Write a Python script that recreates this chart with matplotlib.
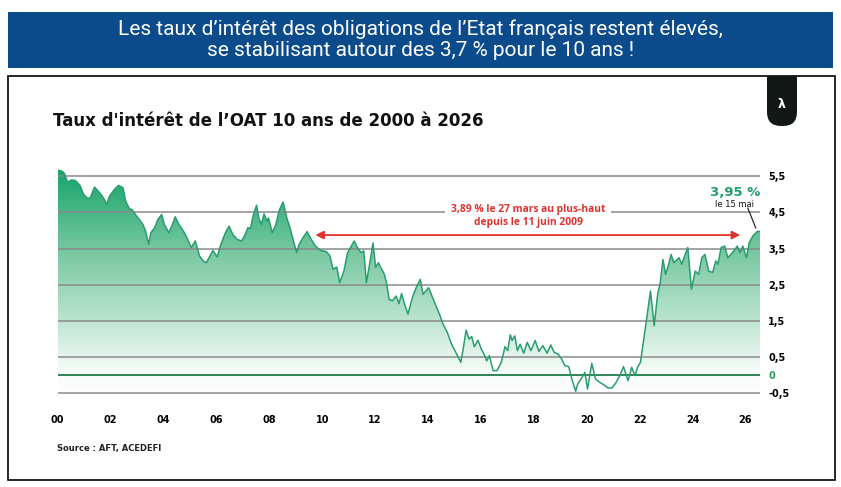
import matplotlib
matplotlib.use("Agg")
import matplotlib.pyplot as plt
import numpy as np
from matplotlib.colors import LinearSegmentedColormap
from matplotlib.patches import Polygon, Rectangle, FancyBboxPatch

# years since 2000 (fraction of year) and OAT 10y rate (%)
YEARS = [
    0.00, 0.16, 0.26, 0.37, 0.53, 0.67, 0.84, 0.98, 1.14, 1.24, 1.39, 1.59, 1.75, 1.85, 1.96,
    2.14, 2.30, 2.47, 2.57, 2.71, 2.81, 2.95, 3.08, 3.22, 3.32, 3.44, 3.52, 3.67, 3.79, 3.93,
    4.03, 4.20, 4.34, 4.44, 4.58, 4.75, 4.91, 5.05, 5.20, 5.36, 5.50, 5.62, 5.77, 5.87, 6.03,
    6.17, 6.34, 6.48, 6.62, 6.78, 6.95, 7.09, 7.19, 7.29, 7.40, 7.52, 7.60, 7.70, 7.80, 7.91,
    7.97, 8.11, 8.25, 8.37, 8.52, 8.66, 8.78, 8.88, 9.03, 9.13, 9.27, 9.43, 9.58, 9.74, 9.94,
    10.15, 10.29, 10.41, 10.55, 10.66, 10.82, 10.96, 11.10, 11.21, 11.33, 11.47, 11.57, 11.67,
    11.78, 11.92, 12.02, 12.12, 12.25, 12.35, 12.43, 12.53, 12.65, 12.80, 12.90, 13.00, 13.10,
    13.24, 13.41, 13.55, 13.71, 13.81, 14.02, 14.22, 14.43, 14.57, 14.73, 14.89, 15.08, 15.24,
    15.34, 15.44, 15.55, 15.65, 15.75, 15.89, 16.01, 16.12, 16.22, 16.32, 16.46, 16.61, 16.77,
    16.91, 17.01, 17.11, 17.18, 17.28, 17.38, 17.48, 17.62, 17.75, 17.89, 18.05, 18.19, 18.34,
    18.50, 18.64, 18.77, 18.91, 19.05, 19.17, 19.32, 19.42, 19.58, 19.66, 19.82, 19.93, 20.03,
    20.19, 20.33, 20.48, 20.64, 20.80, 20.95, 21.09, 21.25, 21.39, 21.56, 21.70, 21.82, 21.92,
    22.03, 22.13, 22.27, 22.41, 22.55, 22.68, 22.78, 22.88, 22.98, 23.08, 23.19, 23.29, 23.49,
    23.59, 23.82, 23.96, 24.10, 24.23, 24.35, 24.47, 24.61, 24.76, 24.88, 24.96, 25.08, 25.22,
    25.33, 25.45, 25.57, 25.69, 25.80, 25.90, 26.04, 26.14, 26.28, 26.44, 26.55,
]
RATES = [
    5.67, 5.64, 5.57, 5.34, 5.40, 5.38, 5.25, 5.00, 4.88, 4.92, 5.20, 5.04, 4.88, 4.72, 4.95,
    5.13, 5.25, 5.18, 4.81, 4.60, 4.58, 4.43, 4.31, 4.17, 3.99, 3.62, 3.94, 4.08, 4.31, 4.44,
    4.17, 3.94, 4.17, 4.38, 4.17, 3.99, 3.76, 3.53, 3.71, 3.30, 3.16, 3.11, 3.32, 3.45, 3.27,
    3.62, 3.94, 4.12, 3.89, 3.76, 3.71, 3.89, 4.08, 4.06, 4.44, 4.70, 4.35, 4.17, 4.46, 4.26,
    4.35, 3.94, 4.17, 4.55, 4.79, 4.35, 4.08, 3.80, 3.39, 3.62, 3.80, 3.97, 3.76, 3.57, 3.45,
    3.42, 3.30, 2.93, 2.99, 2.56, 2.88, 3.39, 3.57, 3.71, 3.53, 3.39, 3.44, 2.56,
    3.02, 3.66, 2.98, 3.11, 2.93, 2.79, 2.56, 2.10, 2.06, 2.19, 1.98, 2.26, 2.00,
    1.69, 2.15, 2.42, 2.65, 2.24, 2.42, 2.06, 1.69, 1.41, 1.18, 0.86, 0.59, 0.36,
    0.77, 1.25, 1.00, 1.07, 0.79, 0.97, 0.73, 0.58, 0.40, 0.54, 0.13, 0.13, 0.36,
    0.79, 0.68, 1.12, 0.96, 1.09, 0.68, 0.86, 0.61, 0.91, 0.68, 0.96, 0.66, 0.82,
    0.61, 0.84, 0.63, 0.59, 0.45, 0.27, 0.24, -0.06, -0.44, -0.24, -0.06, 0.08, -0.38,
    0.33, -0.10, -0.19, -0.26, -0.35, -0.35, -0.22, -0.01, 0.24, -0.15, 0.22, -0.01, 0.22,
    0.36, 0.86, 1.60, 2.33, 1.37, 2.24, 2.56, 3.20, 2.79, 3.02, 3.34, 3.11, 3.25,
    3.07, 3.53, 2.38, 2.88, 2.79, 3.25, 3.34, 2.88, 2.84, 3.16, 3.07, 3.53, 3.57,
    3.25, 3.34, 3.44, 3.57, 3.39, 3.57, 3.25, 3.66, 3.85, 3.97, 3.98,
]

GRID_VALUES = [5.5, 4.5, 3.5, 2.5, 1.5, 0.5, -0.5]
Y_TICKS = [5.5, 4.5, 3.5, 2.5, 1.5, 0.5, 0, -0.5]
Y_LABELS = ["5,5", "4,5", "3,5", "2,5", "1,5", "0,5", "0", "-0,5"]
X_TICKS = list(range(0, 27, 2))
X_LABELS = ["%02d" % t for t in X_TICKS]

BLUE = "#0b4a8b"
GREEN = "#2a9d6e"
DARK_GREEN = "#1f7a4c"
RED = "#e0322d"
GREY = "#8a8a8a"

W, H = 841, 487
fig = plt.figure(figsize=(W / 100, H / 100), dpi=100)
fig.patch.set_facecolor("white")

# header banner
fig.patches.append(Rectangle((8 / W, 1 - 68 / H), 825 / W, 56 / H,
                             transform=fig.transFigure, facecolor=BLUE, edgecolor="none"))
fig.text(0.5, 1 - 29 / H, "Les taux d\u2019intérêt des obligations de l\u2019Etat français restent élevés,",
         ha="center", va="center", color="white", fontsize=15, family="Roboto")
fig.text(0.5, 1 - 51 / H, "se stabilisant autour des 3,7 % pour le 10 ans !",
         ha="center", va="center", color="white", fontsize=15, family="Roboto")

# chart frame
fig.patches.append(Rectangle((8 / W, 1 - 480 / H), 827 / W, 404 / H,
                             transform=fig.transFigure, facecolor="none", edgecolor="black", lw=1.2))

# logo tab (inches), square top on the frame and rounded bottom
fig.patches.append(FancyBboxPatch((7.67, (H - 126) / 100), 0.30, 0.40,
                                  boxstyle="round,pad=0,rounding_size=0.14",
                                  transform=fig.dpi_scale_trans, facecolor="#111815", edgecolor="none"))
fig.patches.append(Rectangle((7.67, (H - 100) / 100), 0.30, 0.24,
                             transform=fig.dpi_scale_trans, facecolor="#111815", edgecolor="none"))
fig.text(782 / W, 1 - 104 / H, "\u03bb", ha="center", va="center", color="white",
         fontsize=9, fontweight="bold")

fig.text(53 / W, 1 - 121 / H, "Taux d'intérêt de l\u2019OAT 10 ans de 2000 à 2026",
         ha="left", va="center", fontsize=12, fontweight="bold", color="#111111")
fig.text(57 / W, 1 - 449 / H, "Source : AFT, ACEDEFI", ha="left", va="center",
         fontsize=6, fontweight="bold", color="#222222")

ax = fig.add_axes([57.7 / W, 1 - 395.2 / H, (760 - 57.7) / W, (395.2 - 167.2) / H])
ymin, ymax = -0.55, 5.75
xmax = YEARS[-1]
ax.set_xlim(0, xmax)
ax.set_ylim(ymin, ymax)

# gradient fill under the curve
cmap = LinearSegmentedColormap.from_list(
    "g", [(0, "#ffffff"), (0.12, "#f2faf6"), (0.35, "#b6e2cd"), (0.65, "#72c59d"), (1, "#12a36a")])
grad = np.linspace(0, 1, 256).reshape(-1, 1)
img = ax.imshow(grad, extent=[0, xmax, ymin, ymax], origin="lower", aspect="auto",
                cmap=cmap, zorder=1)
verts = list(zip(YEARS, RATES)) + [(YEARS[-1], ymin), (YEARS[0], ymin)]
poly = Polygon(verts, closed=True, facecolor="none", edgecolor="none")
ax.add_patch(poly)
img.set_clip_path(poly)

for v in GRID_VALUES:
    ax.axhline(v, color=GREY, lw=1.1, zorder=2)
ax.axhline(0, color=DARK_GREEN, lw=1.3, zorder=2)

ax.plot(YEARS, RATES, color=GREEN, lw=1.1, zorder=3)

# red arrow annotation
ax.annotate("", xy=(9.74, 3.875), xytext=(25.8, 3.875),
            arrowprops=dict(arrowstyle="<|-|>", color=RED, lw=1.3, mutation_scale=12,
                            shrinkA=0, shrinkB=0), zorder=4)
ax.text(17.78, 4.4, "3,89 % le 27 mars au plus-haut\ndepuis le 11 juin 2009",
        ha="center", va="center", color=RED, fontsize=7.4, fontweight="bold",
        family="Open Sans", linespacing=1.15, zorder=5,
        bbox=dict(boxstyle="square,pad=0.6", facecolor="white", edgecolor="none"))

# last value annotation
ax.text(25.6, 5.06, "3,95 %", ha="center", va="center", color="#1f9e6a",
        fontsize=9.5, fontweight="bold", zorder=5)
ax.text(25.6, 4.73, "le 15 mai", ha="center", va="center", color="#111111",
        fontsize=6, zorder=5)
ax.plot([26.09, 26.39], [4.62, 4.07], color="#111111", lw=0.8, zorder=5)

ax.set_xticks(X_TICKS)
ax.set_xticklabels(X_LABELS, fontsize=7, fontweight="bold")
ax.set_yticks(Y_TICKS)
ax.set_yticklabels(Y_LABELS, fontsize=7, fontweight="bold")
ax.yaxis.tick_right()
ax.tick_params(axis="y", length=0, pad=6)
ax.tick_params(axis="x", length=0, pad=14)
for lab in ax.get_yticklabels():
    if lab.get_text() == "0":
        lab.set_color("#2e9a5e")
for s in ax.spines.values():
    s.set_visible(False)

fig.savefig("out.png", dpi=100)
